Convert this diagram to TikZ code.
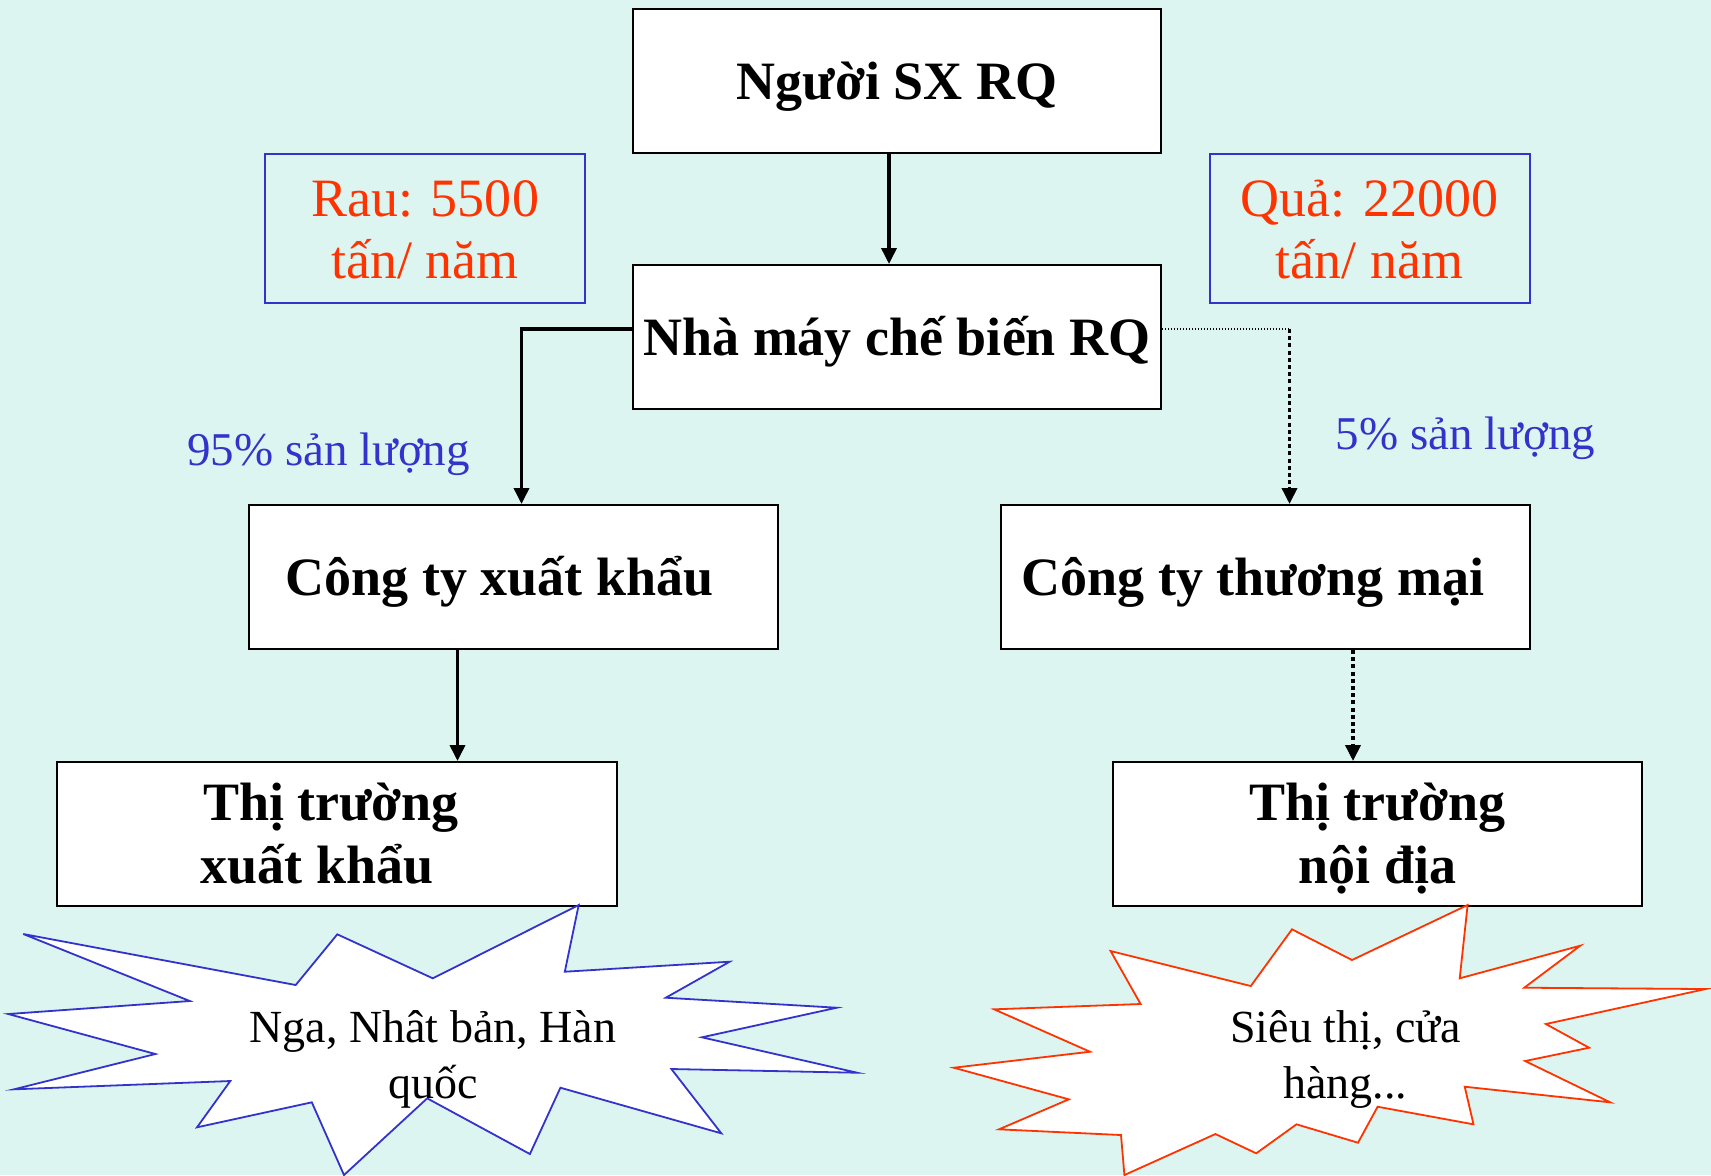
\documentclass[tikz,border=0pt]{standalone}
\usepackage{fontspec}
\setmainfont{Liberation Serif}
\usetikzlibrary{arrows.meta}
\definecolor{bgcyan}{RGB}{220,245,241}
\definecolor{numred}{RGB}{255,51,0}
\definecolor{pctblue}{RGB}{51,51,204}
\tikzset{
    boxfont/.style={
        font=\fontsize{27pt}{31.5pt}\selectfont\bfseries
    }
}

\begin{document}
\begin{tikzpicture}[x=0.5pt, y=-0.5pt, line join=miter]

% box + link styles
\tikzset{
  box/.style={draw=black, fill=white, line width=1pt, minimum width=264pt, minimum height=72pt, inner sep=0pt, align=center, text height=20pt, text depth=2pt, boxfont},
  twoline/.style={text height=51.5pt, text depth=2.5pt},
  infobox/.style={draw=pctblue, line width=1pt, minimum width=160pt, minimum height=74.5pt, inner sep=0pt, align=center, text=numred, font=\fontsize{27pt}{31pt}\selectfont, text height=51pt, text depth=1pt},
  share/.style={text=pctblue, font=\fontsize{23.5pt}{28pt}\selectfont, anchor=base, inner sep=0pt},
  burst/.style={fill=white, line width=0.9pt},
  bursttxt/.style={align=center, font=\fontsize{23pt}{28pt}\selectfont, text height=44pt, text depth=2pt, inner sep=0pt},
  link/.style={draw=black, line width=1.8pt, -{Triangle[length=8pt,width=7.5pt]}},
  dlink/.style={draw=black, line width=1.8pt, dash pattern=on 2pt off 1.6pt, -{Triangle[length=8pt,width=7.5pt]}},
  dthin/.style={draw=black, line width=0.6pt, dash pattern=on 0.6pt off 0.9pt},
}

  % background
  \useasboundingbox (0,0) rectangle (1711,1175);
  \fill[bgcyan] (0,0) rectangle (1711,1175);

  % boxes
  \node[box] (grower) at (897,81) {Người SX RQ};
  \node[box] (plant) at (897,337) {Nhà máy chế biến RQ};
  \node[infobox] (veg) at (425,228) {Rau: 5500\\tấn/ năm};
  \node[infobox] (fruit) at (1369.5,228) {Quả: 22000\\tấn/ năm};
  \node[box, minimum width=264.5pt] (exporter) at (513.5,577) {Công ty xuất khẩu\kern14pt};
  \node[box, minimum width=264.5pt] (trader) at (1265.5,577) {Công ty thương mại\kern12.5pt};
  \node[box, twoline, minimum width=280pt] (expmkt) at (337,834) {\hbox{Thị trường\kern6pt}\\\hbox{xuất khẩu\kern20pt}};
  \node[box, twoline, minimum width=264.25pt] (dommkt) at (1377.3,834) {Thị trường\\nội địa};

  % shares
  \node[share] (bigshare) at (328.5,465) {95\% sản lượng};
  \node[share] (smallshare) at (1465.5,449) {5\% sản lượng};

  % links
  \draw[link] ([xshift=-4pt]grower.south) -- ([xshift=-4pt]plant.north);
  \draw[link] ([yshift=4pt]plant.west) -| ([xshift=4pt]exporter.north);
  \coordinate (turn) at (1289.5,329);
  \draw[dthin] ([yshift=4pt]plant.east) -- (turn);
  \draw[dlink] (turn) -- (turn |- trader.north);
  \coordinate (expout) at ([xshift=-28pt]exporter.south);
  \draw[link] (expout) -- (expout |- expmkt.north);
  \coordinate (tradeout) at ([xshift=43.75pt]trader.south);
  \draw[dlink] (tradeout) -- (tradeout |- dommkt.north);

  % bursts
  \draw[burst, draw=pctblue] (578.7,905) -- (564.8,971.7) -- (729.6,961.7) -- (665.8,997.7)
    -- (836.7,1007.7) -- (701.9,1037.3) -- (857.2,1072.7) -- (671.4,1069) -- (721.3,1133.3)
    -- (560.4,1087.7) -- (529.9,1154) -- (427.2,1098.3) -- (344,1175) -- (311.8,1102.3)
    -- (197,1127.3) -- (230.3,1081) -- (13.9,1089.3) -- (155.4,1054) -- (8.3,1014)
    -- (189.8,1001) -- (23.3,934) -- (295.7,985) -- (337.3,934.3) -- (432.8,978.3) -- cycle;
  \draw[burst, draw=numred] (1467.6,905) -- (1459.7,978.3) -- (1580.2,945.7) -- (1524.2,987.7)
    -- (1705.6,989) -- (1545.8,1024) -- (1589.1,1047.7) -- (1525.1,1061) -- (1610.2,1102.3)
    -- (1464.7,1086.7) -- (1473.5,1124.3) -- (1377.6,1106.7) -- (1358,1142.7) -- (1296.5,1124.3)
    -- (1256.2,1153.3) -- (1215.4,1134) -- (1124.4,1175) -- (1121,1135) -- (999,1129.3)
    -- (1068.8,1099.3) -- (953.8,1067.7) -- (1090,1051.7) -- (994.1,1009.3) -- (1140.6,1004)
    -- (1110.6,951) -- (1250.8,986) -- (1292,929.3) -- (1352,960) -- cycle;
  \node[bursttxt] (abroad) at (433,1056) {Nga, Nhât bản, Hàn\\quốc};
  \node[bursttxt] (shops) at (1345.5,1056) {Siêu thị, cửa\\hàng...};

\end{tikzpicture}
\end{document}
